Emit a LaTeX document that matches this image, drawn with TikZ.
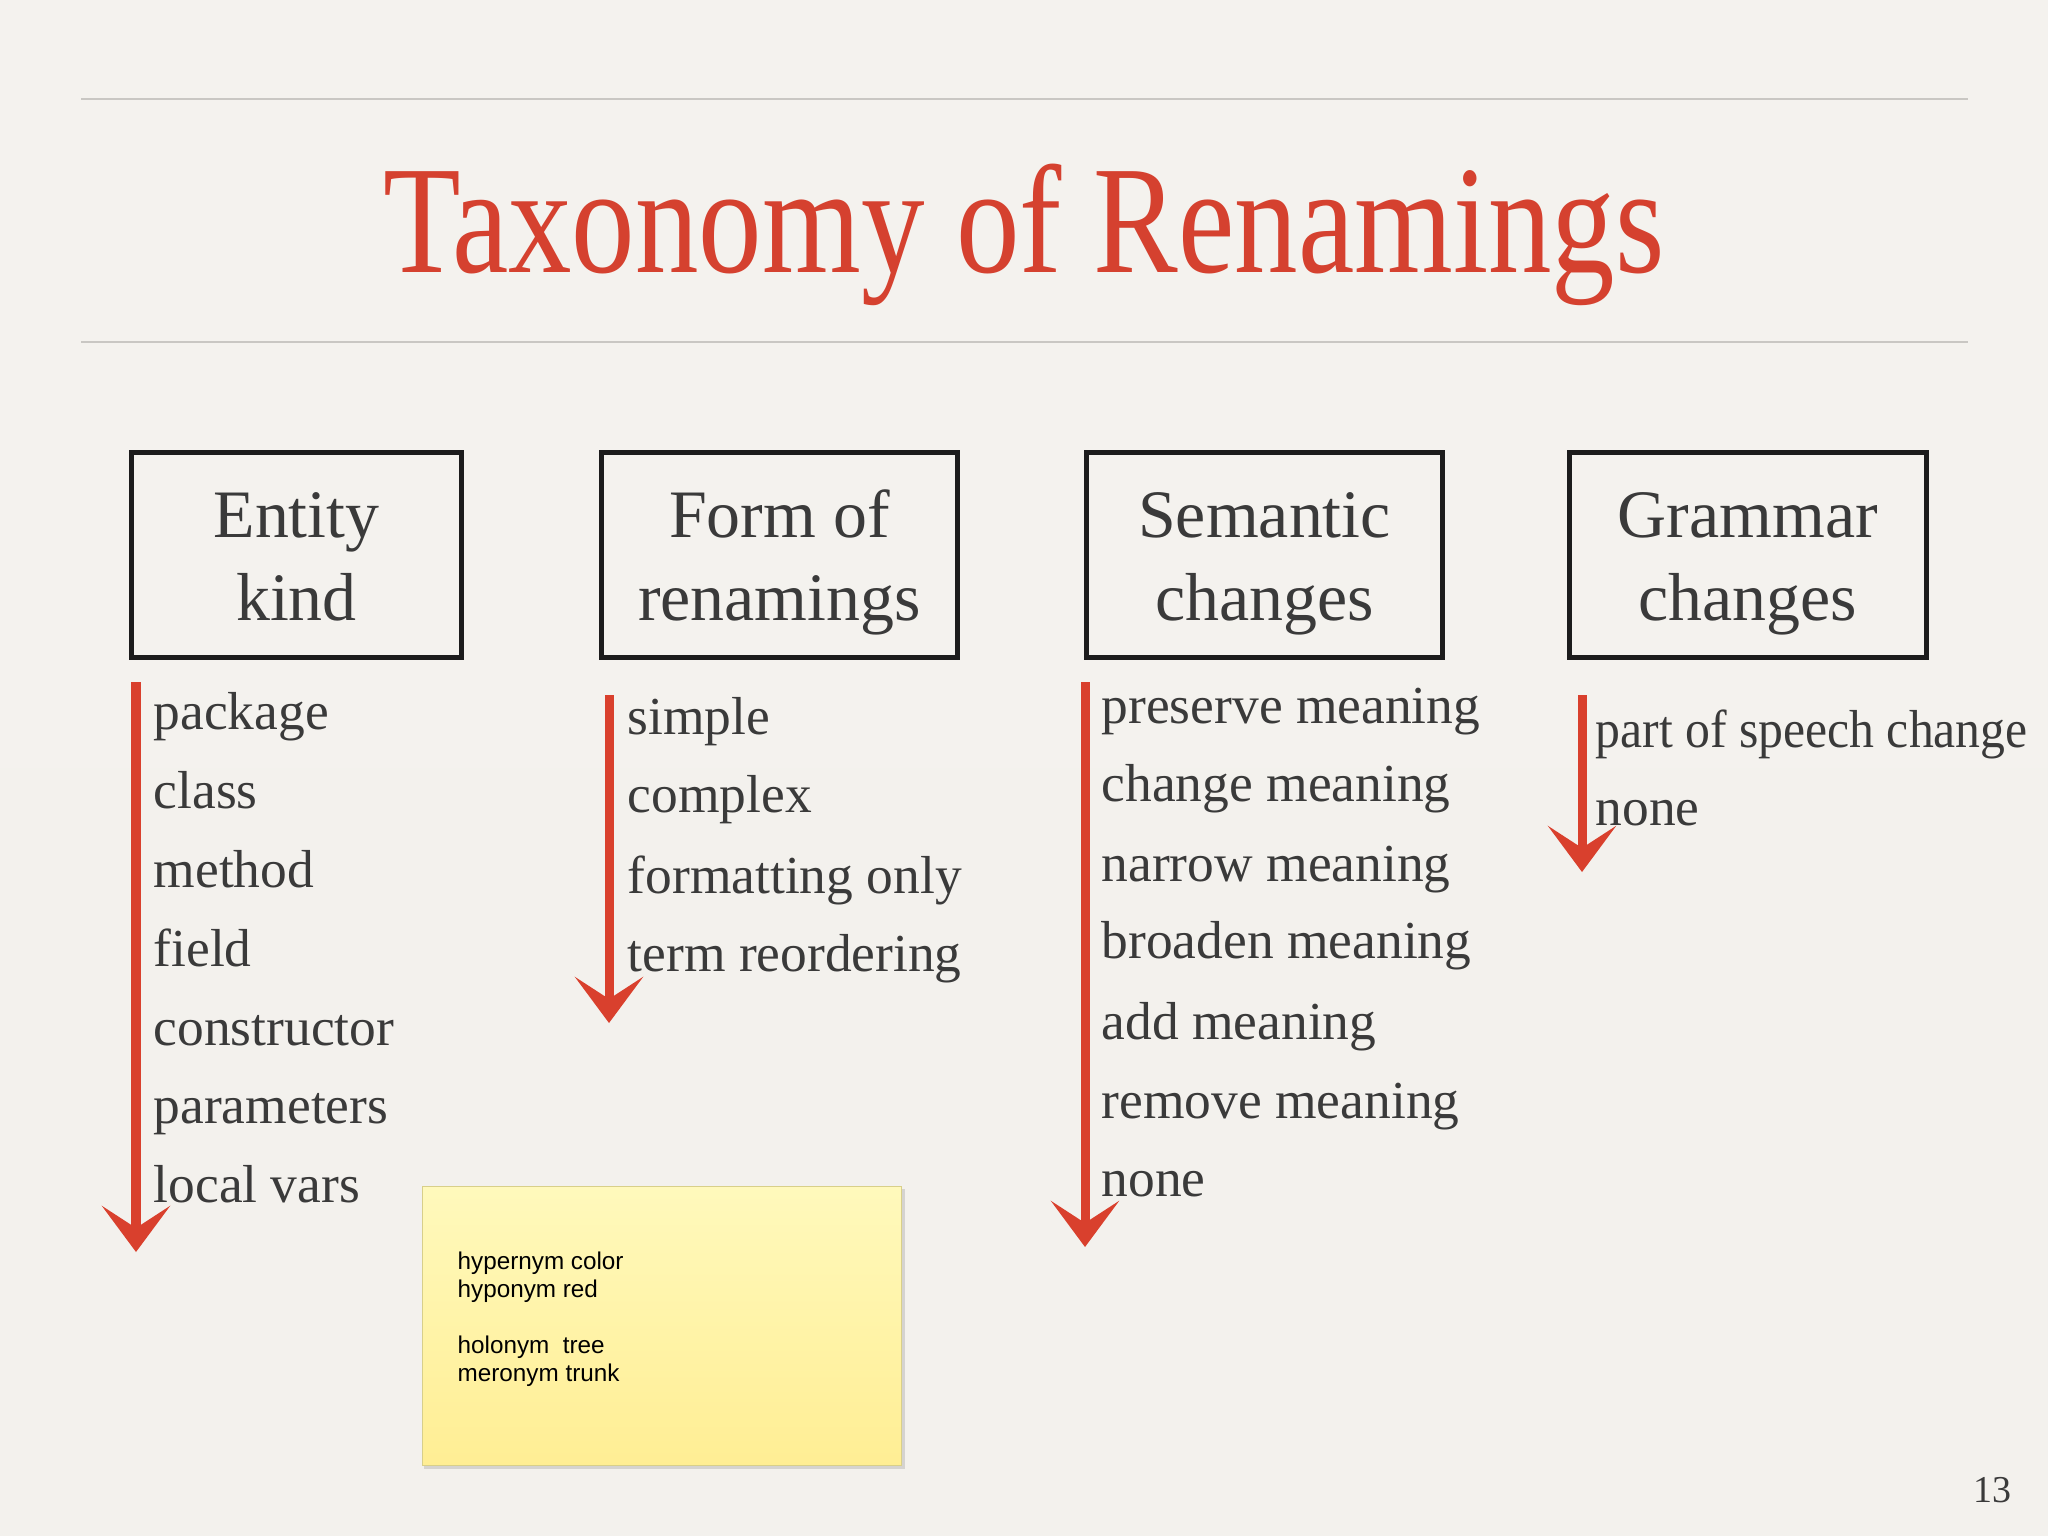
\documentclass[tikz,border=0pt]{standalone}
\usepackage{fontspec}
\setmainfont{Liberation Serif}
\newfontfamily\notefont{Liberation Sans}
\usetikzlibrary{arrows.meta}
\definecolor{bgtop}{HTML}{F4F2EE}
\definecolor{bgmid}{HTML}{ECEAE7}
\definecolor{bgbot}{HTML}{F3F1ED}
\definecolor{rulegray}{HTML}{C9C7C3}
\definecolor{titlered}{HTML}{D5412F}
\definecolor{arrowred}{HTML}{D9402D}
\definecolor{textgray}{HTML}{3A3A3A}
\definecolor{boxblack}{HTML}{1C1C1C}
\definecolor{notetop}{HTML}{FFF9BC}
\definecolor{notebot}{HTML}{FFEE94}
\definecolor{noteedge}{HTML}{D8CF8A}
\tikzset{
  hrule/.style={draw=rulegray, line width=0.015cm},
  catbox/.style={draw=boxblack, line width=0.05cm, inner sep=0pt, minimum height=2.04cm},
  boxlabel/.style={anchor=base, inner sep=0pt, text=textgray,
    font=\fontsize{19.3pt}{23.6pt}\selectfont},
  item/.style={anchor=base west, inner sep=0pt, text=textgray,
    font=\fontsize{15.2pt}{22.5pt}\selectfont},
  redarrow/.style={draw=arrowred, line width=0.09cm,
    -{Stealth[length=0.46cm,width=0.68cm,inset=0.22cm]}},
  notebox/.style={draw=noteedge, line width=0.01cm, top color=notetop, bottom color=notebot},
  notetext/.style={anchor=north west, inner sep=0pt, align=left, text=black,
    font=\notefont\fontsize{6.9pt}{8pt}\selectfont}
}
\begin{document}
\begin{tikzpicture}[x=0.01cm, y=-0.01cm]
\useasboundingbox (0,0) rectangle (2048,1536);
\shade[top color=bgtop, middle color=bgmid, bottom color=bgbot] (0,0) rectangle (2048,1536);
% rules
\draw[hrule] (81,99) -- (1968,99);
\draw[hrule] (81,342) -- (1968,342);
% title
\node[anchor=base, inner sep=0pt, text=titlered, font=\fontsize{43.8pt}{50pt}\selectfont] (title) at (1024,272)
  {\scalebox{0.824}[1]{Taxonomy of Renamings}};
% category boxes
\node[catbox, minimum width=3.29cm] (b1) at (296.5,555) {};
\node[catbox, minimum width=3.55cm] (b2) at (779.5,555) {};
\node[catbox, minimum width=3.55cm] (b3) at (1264.5,555) {};
\node[catbox, minimum width=3.56cm] (b4) at (1748,555) {};
\node[boxlabel] (b1t) at (296.5,537) {Entity};
\node[boxlabel] (b1u) at (296.5,620) {kind};
\node[boxlabel] (b2t) at (779.5,537) {Form of};
\node[boxlabel] (b2u) at (779.5,620) {renamings};
\node[boxlabel] (b3t) at (1264.5,537) {Semantic};
\node[boxlabel] (b3u) at (1264.5,620) {changes};
\node[boxlabel] (b4t) at (1748,537) {Grammar};
\node[boxlabel] (b4u) at (1748,620) {changes};
% column 1
\node[item] (c1a) at (153,729) {package};
\node[item] (c1b) at (153,808) {class};
\node[item] (c1c) at (153,887) {method};
\node[item] (c1d) at (153,966) {field};
\node[item] (c1e) at (153,1045) {constructor};
\node[item] (c1f) at (153,1123) {parameters};
\node[item] (c1g) at (153,1202) {local vars};
% column 2
\node[item] (c2a) at (627,734) {simple};
\node[item] (c2b) at (627,812) {complex};
\node[item] (c2c) at (627,893) {formatting only};
\node[item] (c2d) at (627,971) {term reordering};
% column 3
\node[item] (c3a) at (1101,723) {preserve meaning};
\node[item] (c3b) at (1101,801) {change meaning};
\node[item] (c3c) at (1101,881) {narrow meaning};
\node[item] (c3d) at (1101,958) {broaden meaning};
\node[item] (c3e) at (1101,1039) {add meaning};
\node[item] (c3f) at (1101,1118) {remove meaning};
\node[item] (c3g) at (1101,1196) {none};
% column 4
\node[item] (c4a) at (1595,747) {\scalebox{0.93}[1]{part of speech change}};
\node[item] (c4b) at (1595,825) {none};
% arrows
\coordinate (a1s) at (136,682);  \coordinate (a1e) at (136,1252);
\coordinate (a2s) at (609,695);  \coordinate (a2e) at (609,1023);
\coordinate (a3s) at (1085,682); \coordinate (a3e) at (1085,1247);
\coordinate (a4s) at (1582,695); \coordinate (a4e) at (1582,872);
\draw[redarrow] (a1s) -- (a1e);
\draw[redarrow] (a2s) -- (a2e);
\draw[redarrow] (a3s) -- (a3e);
\draw[redarrow] (a4s) -- (a4e);
% sticky note
\fill[black, opacity=0.12] (424,1189) rectangle (905,1469);
\path[notebox] (422,1186) rectangle (901,1465);
\node[notetext] (note) at (457,1251) {hypernym color\\hyponym red\\[8pt]holonym\ \ tree\\meronym trunk};
% page number
\node[anchor=base east, inner sep=0pt, text=textgray, font=\fontsize{10.8pt}{13pt}\selectfont] (pg) at (2012,1502) {13};
\end{tikzpicture}
\end{document}
